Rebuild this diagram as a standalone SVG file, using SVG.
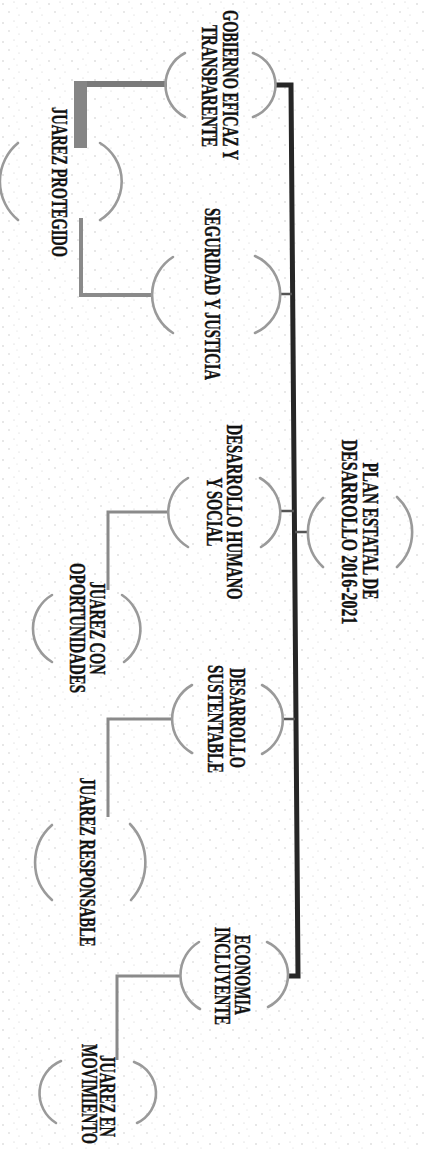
<svg xmlns="http://www.w3.org/2000/svg" width="427" height="1149" viewBox="0 0 427 1149">
<defs>
<pattern id="speck" width="23" height="19" patternUnits="userSpaceOnUse">
<circle cx="3" cy="4" r="0.7" fill="#bdbdbd"/>
<circle cx="14" cy="2" r="0.6" fill="#c8c8c8"/>
<circle cx="9" cy="12" r="0.7" fill="#c2c2c2"/>
<circle cx="19" cy="15" r="0.6" fill="#cccccc"/>
<circle cx="17" cy="8" r="0.5" fill="#d0d0d0"/>
</pattern>
</defs>
<style>
.arc{fill:none;stroke:#9a9a9a;stroke-width:2.6;stroke-linecap:round}
.t{font-family:"Liberation Serif","DejaVu Serif",serif;font-weight:bold;font-size:23px;fill:#111;stroke:#111;stroke-width:0.4}
.con{fill:none;stroke:#8a8a8a;stroke-width:3}
.spine{fill:none;stroke:#262626;stroke-width:5;stroke-linejoin:miter}
.stub{fill:none;stroke:#555;stroke-width:2.5}
</style>
<rect width="427" height="1149" fill="#ffffff"/>
<rect width="427" height="1149" fill="url(#speck)"/>

<g id="connectors">
<path class="spine" d="M276,85 H291 L298,976 H288"/>
<path class="stub" d="M295,532 H308"/>
<path class="stub" d="M280,294 H292"/>
<path class="stub" d="M280,511 H294"/>
<path class="stub" d="M283,719 H295"/>
<path class="con" d="M167,84 H80" style="stroke-width:6;stroke:#7a7a7a"/>
<path class="con" d="M80.5,81 V148" style="stroke-width:13;stroke:#858585"/>
<path class="con" d="M81,218 V295 H152" style="stroke-width:4"/>
<path class="con" d="M168,512 H108 V590"/>
<path class="con" d="M172,719 H108 V817"/>
<path class="con" d="M180,976 H117 V1060"/>
</g>

<g id="node-plan">
<path class="arc" d="M397,497 A48,48 0 0 1 397,567"/>
<path class="arc" d="M323,498 A47,47 0 0 0 323,567"/>
<text class="t" transform="translate(363,462.5) rotate(90) scale(0.68,1)" textLength="201.5" lengthAdjust="spacingAndGlyphs">PLAN ESTATAL DE</text>
<text class="t" transform="translate(342,439.5) rotate(90) scale(0.68,1)" textLength="272" lengthAdjust="spacingAndGlyphs">DESARROLLO 2016-2021</text>
</g>

<g id="node-gobierno">
<path class="arc" d="M253,53 A34,34 0 0 1 253,117"/>
<path class="arc" d="M185,53 A36,36 0 0 0 185,117"/>
<text class="t" transform="translate(223,10) rotate(90) scale(0.68,1)" textLength="220.6" lengthAdjust="spacingAndGlyphs">GOBIERNO EFICAZ Y</text>
<text class="t" transform="translate(202,25) rotate(90) scale(0.68,1)" textLength="179.4" lengthAdjust="spacingAndGlyphs">TRANSPARENTE</text>
</g>

<g id="node-juarez-protegido">
<path class="arc" d="M100,143 A45,45 0 0 1 100,220"/>
<path class="arc" d="M18,143 A50,50 0 0 0 18,220"/>
<text class="t" transform="translate(52,107) rotate(90) scale(0.68,1)" textLength="220.6" lengthAdjust="spacingAndGlyphs">JUAREZ PROTEGIDO</text>
</g>

<g id="node-seguridad">
<path class="arc" d="M255,256 A42,42 0 0 1 255,333"/>
<path class="arc" d="M173,257 A45,45 0 0 0 173,333"/>
<text class="t" transform="translate(205,208) rotate(90) scale(0.68,1)" textLength="253" lengthAdjust="spacingAndGlyphs">SEGURIDAD Y JUSTICIA</text>
</g>

<g id="node-desarrollo-humano">
<path class="arc" d="M260,478 A40,40 0 0 1 261,547"/>
<path class="arc" d="M188,478 A40,40 0 0 0 188,547"/>
<text class="t" transform="translate(227,424.5) rotate(90) scale(0.68,1)" textLength="257.4" lengthAdjust="spacingAndGlyphs">DESARROLLO HUMANO</text>
<text class="t" transform="translate(207,477.5) rotate(90) scale(0.68,1)" textLength="101.5" lengthAdjust="spacingAndGlyphs">Y SOCIAL</text>
</g>

<g id="node-juarez-oportunidades">
<path class="arc" d="M122,595 A41,41 0 0 1 124,662"/>
<path class="arc" d="M52,595 A39,39 0 0 0 52,662"/>
<text class="t" transform="translate(90,581.5) rotate(90) scale(0.68,1)" textLength="136.8" lengthAdjust="spacingAndGlyphs">JUAREZ CON</text>
<text class="t" transform="translate(70,563) rotate(90) scale(0.68,1)" textLength="191.2" lengthAdjust="spacingAndGlyphs">OPORTUNIDADES</text>
</g>

<g id="node-desarrollo-sustentable">
<path class="arc" d="M262,685 A39,39 0 0 1 262,754"/>
<path class="arc" d="M192,685 A39,39 0 0 0 192,753"/>
<text class="t" transform="translate(230,668) rotate(90) scale(0.68,1)" textLength="147" lengthAdjust="spacingAndGlyphs">DESARROLLO</text>
<text class="t" transform="translate(208,665) rotate(90) scale(0.68,1)" textLength="158.8" lengthAdjust="spacingAndGlyphs">SUSTENTABLE</text>
</g>

<g id="node-juarez-responsable">
<path class="arc" d="M130,824 A56,56 0 0 1 131,900"/>
<path class="arc" d="M52,825 A50,50 0 0 0 52,900"/>
<text class="t" transform="translate(80,777.5) rotate(90) scale(0.68,1)" textLength="248.5" lengthAdjust="spacingAndGlyphs">JUAREZ RESPONSABLE</text>
</g>

<g id="node-economia">
<path class="arc" d="M267,942 A36,36 0 0 1 268,1007"/>
<path class="arc" d="M199,942 A39,39 0 0 0 200,1009"/>
<text class="t" transform="translate(235,935) rotate(90) scale(0.68,1)" textLength="117.6" lengthAdjust="spacingAndGlyphs">ECONOMIA</text>
<text class="t" transform="translate(215,927) rotate(90) scale(0.68,1)" textLength="144.1" lengthAdjust="spacingAndGlyphs">INCLUYENTE</text>
</g>

<g id="node-juarez-movimiento">
<path class="arc" d="M134,1062 A33,33 0 0 1 137,1123"/>
<path class="arc" d="M61,1061 A35,35 0 0 0 56,1123"/>
<text class="t" transform="translate(100,1055) rotate(90) scale(0.68,1)" textLength="120.6" lengthAdjust="spacingAndGlyphs">JUAREZ EN</text>
<text class="t" transform="translate(82,1044) rotate(90) scale(0.62,1)" textLength="161" lengthAdjust="spacingAndGlyphs">MOVIMIENTO</text>
</g>
</svg>
